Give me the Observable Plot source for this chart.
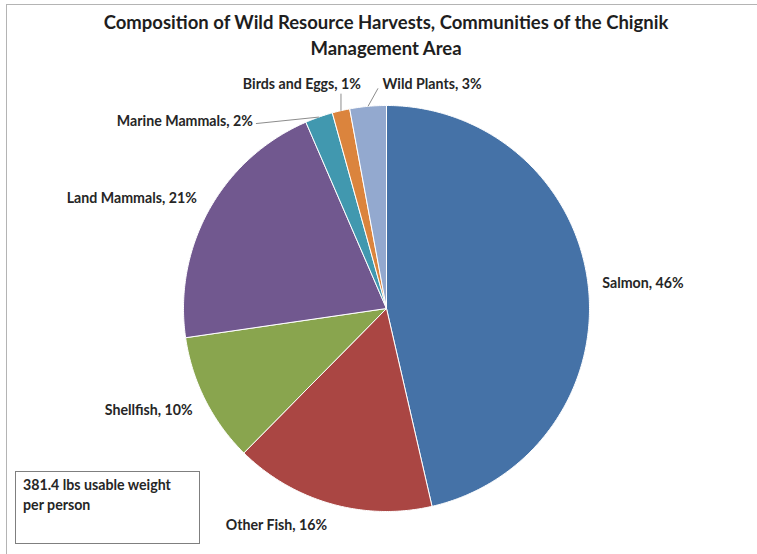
<!DOCTYPE html>
<html>
<head>
<meta charset="utf-8">
<script src="https://cdn.jsdelivr.net/npm/d3@7"></script>
<script src="https://cdn.jsdelivr.net/npm/@observablehq/plot@0.6"></script>
<style>
  html, body { margin: 0; padding: 0; background: #fff; overflow: hidden; }
  #wrap { position: relative; width: 757px; height: 554px; overflow: hidden; font-family: Lato, "Open Sans", sans-serif; }
  #frame { position: absolute; left: 6px; top: 4px; width: 800px; height: 600px; border-top: 1px solid #b4b4b4; border-left: 1px solid #b4b4b4; }
  #title { position: absolute; left: 0; width: 772px; top: 9px; text-align: center; font-weight: 700; font-size: 18.5px; line-height: 26px; color: #1e1e1e; }
  #note { position: absolute; left: 15px; top: 471px; width: 185px; height: 73px; border: 1px solid #7f7f7f; box-sizing: border-box; padding: 3px 7px; font-weight: 700; font-size: 14.2px; line-height: 20px; color: #262626; }
  #chart { position: absolute; left: 0; top: 0; }
</style>
</head>
<body>
<div id="wrap">
  <div id="frame"></div>
  <div id="chart"></div>
  <div id="title">Composition of Wild Resource Harvests, Communities of the Chignik<br>Management Area</div>
  <div id="note">381.4 lbs usable weight<br>per person</div>
</div>
<script>
// ---- data ----
const categories = ["Salmon", "Other Fish", "Shellfish", "Land Mammals", "Marine Mammals", "Birds and Eggs", "Wild Plants"];
const shares = [46.4, 16.0, 10.3, 20.8, 2.2, 1.4, 2.9];
const colors = ["#4572A7", "#AA4643", "#89A54E", "#71588F", "#4198AF", "#DB843D", "#93A9CF"];

// ---- layout ----
const W = 757, H = 554;
const cx = 386, cy = 308, R = 203;
const labelK = 1.07;     // radial position of outside labels
const halfH = 8;         // half label height (px)
// labels moved off the pie edge with leader lines (px offsets from slice edge point)
const leaders = {
  "Marine Mammals": {anchor: "end", label: [-66, 4.5], tip: [-63, 6.5]},
  "Birds and Eggs": {anchor: "end", label: [20, -26], tip: [0, -17]},
  "Wild Plants":    {anchor: "start", label: [14.5, -22], tip: [10, -18]}
};

const total = d3.sum(shares);
let acc = 0;
const slices = categories.map((name, i) => {
  const a0 = acc / total * 2 * Math.PI;
  acc += shares[i];
  const a1 = acc / total * 2 * Math.PI;
  return {name, value: shares[i], color: colors[i], a0, a1, mid: (a0 + a1) / 2,
          label: `${name}, ${Math.round(shares[i])}%`};
});

// polygon points (unit coordinates, y down)
const poly = [];
for (const s of slices) {
  poly.push({name: s.name, color: s.color, x: 0, y: 0});
  const n = Math.max(2, Math.ceil((s.a1 - s.a0) / (Math.PI / 360)));
  for (let k = 0; k <= n; k++) {
    const a = s.a0 + (s.a1 - s.a0) * k / n;
    poly.push({name: s.name, color: s.color, x: Math.sin(a), y: -Math.cos(a)});
  }
  poly.push({name: s.name, color: s.color, x: 0, y: 0});
}

const plain = [], lead = [];
for (const s of slices) {
  const sx = Math.sin(s.mid), sy = -Math.cos(s.mid);
  const L = leaders[s.name];
  if (L) {
    lead.push({
      label: s.label, anchor: L.anchor,
      x1: sx, y1: sy,
      x2: sx + L.tip[0] / R, y2: sy + L.tip[1] / R,
      lx: sx + L.label[0] / R, ly: sy + L.label[1] / R
    });
  } else {
    plain.push({
      label: s.label, anchor: sx >= 0 ? "start" : "end",
      lx: sx * labelK, ly: sy * labelK + sy * halfH / R
    });
  }
}

const textOpts = {fontSize: 14.2, fontWeight: 700, fill: "#262626", lineAnchor: "middle", fontFamily: "Lato, 'Open Sans', sans-serif"};

const chart = Plot.plot({
  width: W, height: H,
  margin: 0,
  x: {domain: [-1, 1], range: [cx - R, cx + R], axis: null},
  y: {domain: [-1, 1], range: [cy - R, cy + R], axis: null},
  color: {type: "identity"},
  marks: [
    Plot.line(poly, {x: "x", y: "y", z: "name", fill: "color", stroke: "#ffffff", strokeWidth: 1, strokeLinejoin: "round", curve: "linear"}),
    Plot.link(lead, {x1: "x1", y1: "y1", x2: "x2", y2: "y2", stroke: "#8c8c8c", strokeWidth: 1}),
    Plot.text(plain.filter(d => d.anchor === "start"), {x: "lx", y: "ly", text: "label", textAnchor: "start", ...textOpts}),
    Plot.text(plain.filter(d => d.anchor === "end"), {x: "lx", y: "ly", text: "label", textAnchor: "end", ...textOpts}),
    Plot.text(lead.filter(d => d.anchor === "start"), {x: "lx", y: "ly", text: "label", textAnchor: "start", ...textOpts}),
    Plot.text(lead.filter(d => d.anchor === "end"), {x: "lx", y: "ly", text: "label", textAnchor: "end", ...textOpts})
  ]
});
document.getElementById("chart").appendChild(chart);
</script>
</body>
</html>
